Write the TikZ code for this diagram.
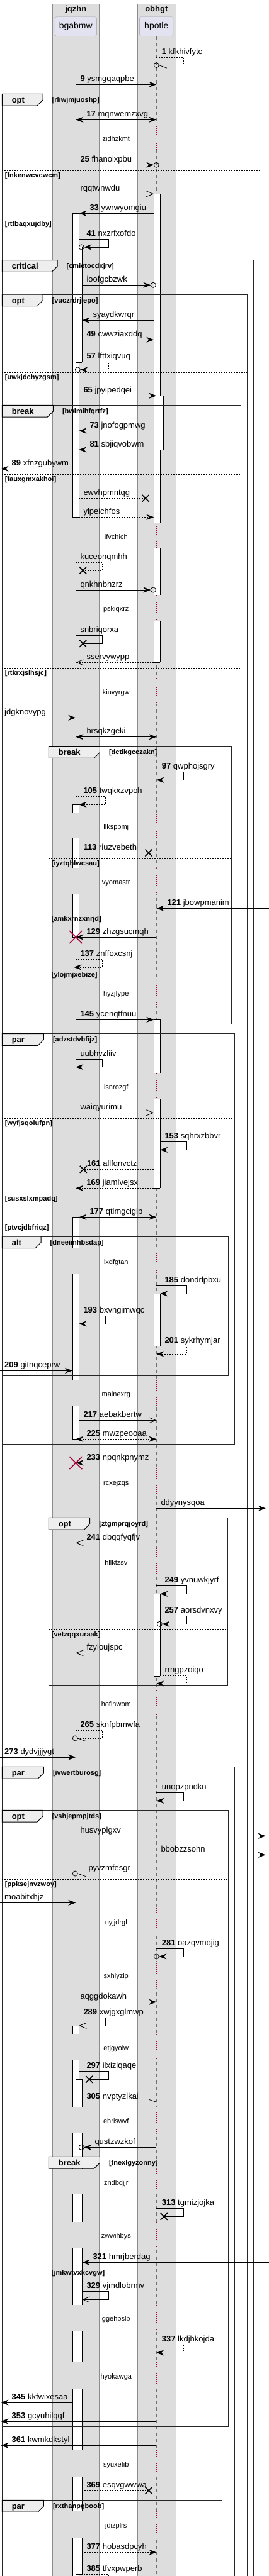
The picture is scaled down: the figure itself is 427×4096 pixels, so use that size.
\documentclass[tikz,border=0pt]{standalone}
\usepackage{fontspec}
\setmainfont{Liberation Sans}
\usetikzlibrary{arrows.meta}
\definecolor{boxbg}{HTML}{DDDDDD}
\definecolor{boxrule}{HTML}{8C8C8C}
\definecolor{partbg}{HTML}{E2E2F0}
\definecolor{partrule}{HTML}{A0A0A0}
\definecolor{lifegray}{HTML}{707070}
\definecolor{delayred}{HTML}{A80036}
\definecolor{tabbg}{HTML}{EEEEEE}
\tikzset{
  msgline/.style={line width=0.8pt},
  dashmsg/.style={dash pattern=on 2pt off 2pt},
  headfill/.style={-{Stealth[length=12pt,width=9pt,inset=4pt]}},
  headopen/.style={-{Straight Barb[length=11pt,width=9pt]}},
  bothfill/.style={{Stealth[length=12pt,width=9pt,inset=4pt]}-{Stealth[length=12pt,width=9pt,inset=4pt]}},
  msgtext/.style={anchor=base west,inner sep=0pt,font=\fontsize{13}{15}\selectfont},
  delaytext/.style={anchor=base,inner sep=0pt,font=\fontsize{11}{13}\selectfont},
  kwtext/.style={anchor=base west,inner sep=0pt,font=\bfseries\fontsize{13}{15}\selectfont},
  guardtext/.style={anchor=base west,inner sep=0pt,font=\bfseries\fontsize{11}{13}\selectfont},
  boxtitle/.style={anchor=base,inner sep=0pt,font=\bfseries\fontsize{13}{15}\selectfont},
  part/.style={draw=partrule,fill=partbg,rounded corners=2.5pt,minimum height=30.6pt,inner sep=0pt,font=\fontsize{14}{16}\selectfont},
  lifeline/.style={lifegray,line width=0.8pt,dash pattern=on 5pt off 5pt},
  delayline/.style={delayred,line width=0.8pt,dash pattern=on 1pt off 2pt},
  frameline/.style={line width=1.5pt,draw=black!85},
  sepline/.style={line width=0.7pt,dash pattern=on 2pt off 2pt},
  actline/.style={line width=0.8pt},
  lostx/.style={line width=1.5pt},
}
% lifelines and activation edges
\newcommand{\Xj}{120.3}
\newcommand{\Xo}{248.3}
\newcommand{\Xja}{125.3}
\newcommand{\Xjl}{115}
\newcommand{\Xjn}{130.3}
\newcommand{\Xoa}{244.3}
\newcommand{\Xor}{254.3}
\newcommand{\Xon}{249.3}
\newcommand{\Xl}{1.5}
\newcommand{\Xr}{421.7}
% messages
\newcommand{\msg}[5][]{%
  \draw[msgline,#1] (#3,#2) -- (#4,#2);
  \pgfmathsetmacro{\labx}{(#4<#3) ? #4+17 : #3+7}%
  \node[msgtext] at (\labx,#2-5) {#5};}
\newcommand{\selfmsg}[6][]{%
  \draw[msgline,#1] (#2,#3) -- (#4,#3) -- (#4,#3+12.6) -- (#5,#3+12.6);
  \node[msgtext] at (#4-35,#3-5) {#6};}
\newcommand{\lostmark}[2]{\draw[lostx] (#1-5.5,#2-5.5) -- (#1+5.5,#2+5.5) (#1-5.5,#2+5.5) -- (#1+5.5,#2-5.5);}
\newcommand{\lost}[5][]{%
  \draw[msgline,#1] (#3,#2) -- (#4,#2);
  \lostmark{#4}{#2}
  \pgfmathsetmacro{\labx}{(#4<#3) ? #4+5.5 : #3+7}%
  \node[msgtext] at (\labx,#2-5) {#5};}
\newcommand{\tipring}[2]{\draw[msgline] (#1,#2) circle (4pt);}
\newcommand{\ringbarb}[2]{\draw[msgline] (#1,#2) circle (4pt) (#1+4,#2) -- ++(12.5,4.5);}
\newcommand{\destroymark}[2]{\draw[delayred,line width=1.5pt] (#1-10,#2-10) -- (#1+10,#2+10) (#1-10,#2+10) -- (#1+10,#2-10);}
% activations and groups
\newcommand{\actbar}[5]{%
  \fill[white] (#1,#2) rectangle (#1+10,#3);
  \draw[actline] (#1,#2) -- (#1,#3) (#1+10,#2) -- (#1+10,#3);
  \ifnum#4=1 \draw[actline] (#1,#2) -- (#1+10,#2);\fi
  \ifnum#5=1 \draw[actline] (#1,#3) -- (#1+10,#3);\fi}
\newcommand{\groupframe}[7]{%
  \draw[frameline] (#1,#3) rectangle (#2,#4);
  \draw[line width=1pt,fill=tabbg] (#1,#3) -- (#5,#3) -- (#5,#3+9.7) -- (#5-9,#3+18.7) -- (#1,#3+18.7) -- cycle;
  \node[kwtext] at (#1+15.3,#3+14) {#6};
  \node[guardtext] at (#5+14.5,#3+13) {[#7]};}
\newcommand{\groupsep}[4]{%
  \draw[sepline] (#1,#3) -- (#2,#3);
  \node[guardtext] at (#1+4.4,#3+11) {[#4]};}

\begin{document}
\begin{tikzpicture}[x=1pt,y=-1pt]
\useasboundingbox (0,0) rectangle (427,4096);
\clip (0,0) rectangle (427,4096);
% boxes :
\draw[boxrule,fill=boxbg] (83.3,6) rectangle (157.3,4110);
\draw[boxrule,fill=boxbg] (218.3,6) rectangle (279.3,4110);
\node[boxtitle] (jqzhn) at (\Xj,18) {jqzhn};
\node[boxtitle] (obhgt) at (\Xo,18) {obhgt};
% participants and lifelines :
\node[part,minimum width=66pt] (bgabmw) at (\Xj,42) {bgabmw};
\node[part,minimum width=53.4pt] (hpotle) at (\Xo,42) {hpotle};
\draw[lifeline] (bgabmw.south) -- (\Xj,4110);
\draw[lifeline] (hpotle.south) -- (\Xo,4110);
% delays :
\foreach \ya/\yb/\txt in {198/239/zidhzkmt, 830.7/872.3/ifvchich, 946/986.7/pskiqxrz,
  1078/1120/kiuvyrgw, 1292.3/1333.3/llkspbmj, 1380/1421/vyomastr, 1557.5/1599/hyzjfype,
  1705.7/1747.3/lsnrozgf, 1984/2026/lxdfgtan, 2194.7/2236/malnexrg, 2335/2376.5/rcxejzqs,
  2462/2504/hllktzsv, 2687/2729/hoflnwom, 3034/3076/nyjjdrgl, 3119/3161/sxhiyzip,
  3234.3/3276/etjgyolw, 3350/3391.7/ehriswvf, 3449/3489.3/zndbdjjr, 3532.7/3574/zwwihbys,
  3664.7/3706/ggehpslb, 3756/3798.3/hyokawga, 3896/3938.3/syuxefib, 3993.3/4035/jdizplrs}{
  \draw[boxbg,line width=2pt] (\Xj,\ya) -- (\Xj,\yb) (\Xo,\ya) -- (\Xo,\yb);
  \draw[delayline] (\Xj,\ya) -- (\Xj,\yb) (\Xo,\ya) -- (\Xo,\yb);
  \node[delaytext] at (184.3,{(\ya+\yb)/2+5.5}) {\txt};
}
% activations :
\foreach \xa/\ya/\yb/\ta/\tb in {115/339.3/822.3/1/1, 115/1279/1292.3/1/0, 115/1333.3/1380/0/0,
  115/1421/1490/0/1, 115/1935.3/1984/1/0, 115/2026/2194.7/0/0, 115/2236/2288.3/0/1,
  115/3221.3/3234.3/1/0, 115/3276/3350/0/0, 115/3391.7/3449/0/0, 115/3489.3/3532.7/0/0,
  115/3574/3664.7/0/0, 115/3706/3756/0/0, 115/3798.3/3896/0/0, 115/3938.3/3993.3/0/0,
  115/4035/4110/0/0,
  120.3/392.3/576/1/1, 120.3/3306.3/3350/1/0, 120.3/3391.7/3449/0/0, 120.3/3489.3/3532.7/0/0,
  120.3/3574/3664.7/0/0, 120.3/3706/3756/0/0, 120.3/3798.3/3896/0/0, 120.3/3938.3/3993.3/0/0,
  120.3/4035/4093.3/0/1,
  244.3/308.3/830.7/1/0, 244.3/872.3/946/0/0, 244.3/986.7/1053.3/0/1, 244.3/1621.3/1705.7/1/0,
  244.3/1747.3/1889.3/0/1, 244.3/2057.3/2140.3/1/1, 244.3/2534.3/2665/1/1,
  249.3/629.3/715/1/1}{
  \actbar{\xa}{\ya}{\yb}{\ta}{\tb}
}
% groups :
\groupframe{3.3}{412.3}{149.3}{4110}{68}{opt}{rliwjmjuoshp}
\groupsep{3.3}{412.3}{271}{fnkenwcvcwcm}
\groupsep{3.3}{412.3}{348.3}{rttbaqxujdby}
\groupframe{3.3}{402.3}{413.7}{4110}{91}{critical}{cmietocdxjrv}
\groupframe{3.3}{392.3}{468}{4110}{68}{opt}{vuczrdrjlepo}
\groupsep{3.3}{392.3}{592.3}{uwkjdchyzgsm}
\groupframe{3.3}{382.3}{644.3}{4110}{84.3}{break}{bwlmihfqrtfz}
\groupsep{3.3}{382.3}{754}{fauxgmxakhoi}
\groupsep{3.3}{382.3}{1062.3}{rtkrxjslhsjc}
\groupframe{77.3}{367.7}{1186.7}{1628.7}{158.3}{break}{dctikgcczakn}
\groupsep{77.3}{367.7}{1365}{iyztqhlwcsau}
\groupsep{77.3}{367.7}{1453.3}{amkxrnzxnrjd}
\groupsep{77.3}{367.7}{1542.3}{ylojmjxebize}
\groupframe{3.3}{372.3}{1643.7}{2296.3}{69.3}{par}{adzstdvbfijz}
\groupsep{3.3}{372.3}{1778.3}{wyfjsqolufpn}
\groupsep{3.3}{372.3}{1898.3}{susxslxmpadq}
\groupsep{3.3}{372.3}{1944.3}{ptvcjdbfriqz}
\groupframe{3.3}{362.7}{1966}{2187}{65}{alt}{dneeimhbsdap}
\groupframe{77.3}{361.7}{2413.3}{2680}{142.7}{opt}{ztgmprqjoyrd}
\groupsep{77.3}{361.7}{2591}{vetzqqxuraak}
\groupframe{3.3}{372.7}{2809.3}{4110}{69.3}{par}{ivwertburosg}
\groupframe{3.3}{362.7}{2878.3}{3857.7}{68}{opt}{vshjepmpjtds}
\groupsep{3.3}{362.7}{2988}{ppksejnvzwoy}
\groupframe{77.3}{352.7}{3429.3}{3749.3}{158.3}{break}{tnexlgyzonny}
\groupsep{77.3}{352.7}{3606.3}{jmkwtvxkcvgw}
\groupframe{3.3}{352.7}{3975.3}{4110}{69.3}{par}{rxthanpgboob}
% messages :
\selfmsg[dashmsg]{\Xo}{91}{291.7}{\Xo+4}{\textbf{1} kfkhivfytc}\ringbarb{\Xo}{103.6}
\msg[headfill]{134.3}{\Xj}{\Xo}{\textbf{9} ysmgqaqpbe}
\msg[bothfill]{190.3}{\Xo}{\Xj}{\textbf{17} mqnwemzxvg}
\msg[headfill]{262.3}{\Xj}{\Xo-4}{\textbf{25} fhanoixpbu}\tipring{\Xo}{262.3}
\msg[headopen]{308.3}{\Xj}{\Xoa}{rqqtwnwdu}
\msg[headfill]{339.3}{\Xoa}{\Xja}{\textbf{33} ywrwyomgiu}
\selfmsg[headfill]{\Xja}{380.3}{172.3}{\Xjn+3}{\textbf{41} nxzrfxofdo}\tipring{\Xjn-1}{392.9}
\msg[headfill]{453.3}{\Xjn}{\Xoa-5}{ioofgcbzwk}\tipring{\Xoa-1}{453.3}
\msg[headfill]{509.3}{\Xoa}{\Xjn}{syaydkwrqr}
\msg[headfill]{540.3}{\Xjn}{\Xoa}{\textbf{49} cwwziaxddq}
\selfmsg[dashmsg,headfill]{\Xjn}{575.3}{172.3}{\Xja+2}{\textbf{57} lfttxiqvuq}\tipring{\Xja-2}{587.9}
\msg[headfill]{629.3}{\Xja}{\Xo}{\textbf{65} jpyipedqei}
\msg[dashmsg,headfill]{685}{\Xon}{\Xja}{\textbf{73} jnofogpmwg}
\msg[dashmsg,headfill]{715}{\Xon}{\Xja}{\textbf{81} sbjiqvobwm}
\msg[headfill]{745.3}{\Xoa}{\Xl}{\textbf{89} xfnzgubywm}
\lost[dashmsg]{792.3}{\Xja}{231}{ewvhpmntqg}
\msg[dashmsg,headfill]{822.3}{\Xja}{\Xoa}{ylpeichfos}
\selfmsg[dashmsg]{\Xj}{894.3}{162.3}{131.7}{kuceonqmhh}\lostmark{131.7}{906.9}
\msg[headfill]{938}{\Xj}{\Xoa-5}{qnkhnbhzrz}\tipring{\Xoa-1}{938}
\selfmsg{\Xj}{1010.7}{162.3}{131.7}{snbriqorxa}\lostmark{131.7}{1023.3}
\msg[dashmsg,headopen]{1053.3}{\Xoa}{\Xj}{sservywypp}
\msg[headfill]{1141.3}{0}{\Xj}{jdgknovypg}
\msg[bothfill]{1171.7}{\Xo}{\Xj}{hrsqkzgeki}
\selfmsg[headfill]{\Xo}{1227.7}{291.7}{\Xo}{\textbf{97} qwphojsgry}
\selfmsg[dashmsg,headfill]{\Xj}{1266.7}{167.3}{\Xja}{\textbf{105} twqkxzvpoh}
\lost{1356}{\Xja}{236}{\textbf{113} riuzvebeth}
\msg[headfill]{1444.3}{427}{\Xo}{\textbf{121} jbowpmanim}
\msg[headfill]{1490}{\Xo}{\Xj}{\textbf{129} zhzgsucmqh}\destroymark{\Xj}{1490}
\selfmsg[dashmsg,headfill]{\Xj}{1525.3}{162.3}{\Xj-3}{\textbf{137} znffoxcsnj}
\msg[headfill]{1621.3}{\Xj}{\Xoa}{\textbf{145} ycenqtfnuu}
\selfmsg[headfill]{\Xj}{1684}{162.3}{\Xj}{uubhvzliiv}
\msg[headopen]{1769.3}{\Xj}{\Xoa}{waiqyurimu}
\selfmsg[headfill]{\Xor}{1815.7}{296.3}{\Xor}{\textbf{153} sqhrxzbbvr}
\lost[dashmsg]{1859.3}{\Xoa}{132.3}{\textbf{161} allfqnvctz}
\msg[dashmsg,headfill]{1889.3}{\Xoa}{\Xj}{\textbf{169} jiamlvejsx}
\msg[bothfill]{1935.3}{\Xo}{\Xja}{\textbf{177} qtlmgcigip}
\selfmsg[headfill]{\Xo}{2044.3}{296.3}{\Xor}{\textbf{185} dondrlpbxu}
\selfmsg[headfill]{\Xja}{2092.3}{167.3}{\Xja}{\textbf{193} bxvngimwqc}
\selfmsg[dashmsg,headfill]{\Xor}{2140.3}{296.3}{\Xo}{\textbf{201} sykrhymjar}
\msg[headfill]{2179.3}{0}{\Xjl}{\textbf{209} gitnqceprw}
\msg[headopen]{2258.3}{\Xja}{\Xo}{\textbf{217} aebakbertw}
\msg[dashmsg,bothfill]{2288.3}{\Xo}{\Xj}{\textbf{225} mwzpeooaa}
\msg[headfill]{2326}{\Xo}{\Xj}{\textbf{233} npqnkpnymz}\destroymark{\Xj}{2326}
\msg[headfill]{2398.3}{\Xo}{\Xr}{ddyynysqoa}
\msg[headopen]{2453.3}{\Xo}{\Xj}{\textbf{241} dbqqfyqfjv}
\selfmsg[headfill]{\Xo}{2521.7}{296.3}{\Xor}{\textbf{249} yvnuwkjyrf}
\selfmsg[headfill]{\Xor}{2569.7}{296.3}{\Xor+3}{\textbf{257} aorsdvnxvy}\tipring{\Xor-1}{2582.3}
\msg[headopen]{2628.3}{\Xoa}{\Xj}{fzyloujspc}
\selfmsg[dashmsg,headfill]{\Xor}{2664.3}{296.3}{\Xo}{rrngpzoiqo}
\selfmsg[dashmsg]{\Xj}{2751.3}{162.3}{\Xj+3}{\textbf{265} sknfpbmwfa}\ringbarb{\Xj-1}{2763.9}
\msg[headfill]{2794}{0}{\Xj}{\textbf{273} dydvjjjygt}
\selfmsg[headfill]{\Xo}{2850.7}{291.7}{\Xo}{unopzpndkn}
\msg[headfill]{2919.3}{\Xj}{\Xr}{husvyplgxv}
\msg[headfill]{2949.3}{\Xo}{\Xr}{bbobzzsohn}
\msg[dashmsg]{2979}{\Xo}{\Xj+3}{pyvzmfesgr}\ringbarb{\Xj-1}{2979}
\msg[headfill]{3025.3}{0}{\Xj}{moabitxhjz}
\selfmsg[headfill]{\Xo}{3098.3}{291.7}{\Xo+4}{\textbf{281} oazqvmojig}\tipring{\Xo}{3110.9}
\msg[headfill]{3183.3}{\Xj}{\Xo}{aqggdokawh}
\selfmsg[headopen]{\Xj}{3208.3}{167.3}{\Xja}{\textbf{289} xwjgxglmwp}
\selfmsg{\Xja}{3293.7}{172.3}{141.7}{\textbf{297} ilxiziqaqe}\lostmark{141.7}{3306.3}
\msg{3342.3}{\Xjn}{\Xo}{\textbf{305} nvptyzlkai}\draw[msgline] (\Xo,3342.3) -- ++(-12,-4);
\msg[headfill]{3414.3}{\Xo}{\Xjn+3}{qustzwzkof}\tipring{\Xjn-1}{3414.3}
\selfmsg{\Xo}{3511.7}{291.7}{260.3}{\textbf{313} tgmizjojka}\lostmark{260.3}{3524.3}
\msg[headfill]{3597.3}{427}{\Xjn}{\textbf{321} hmrjberdag}
\selfmsg[headopen]{\Xjn}{3643.7}{172.3}{\Xjn}{\textbf{329} vjmdlobrmv}
\selfmsg[dashmsg,headfill]{\Xo}{3728.3}{291.7}{\Xo}{\textbf{337} lkdjhkojda}
\msg[headfill]{3820}{\Xjl}{\Xl}{\textbf{345} kkfwixesaa}
\msg[headfill]{3850}{\Xo}{\Xl}{\textbf{353} gcyuhilqqf}
\msg[headfill]{3888.3}{\Xo}{\Xl}{\textbf{361} kwmkdkstyl}
\lost[dashmsg]{3960}{\Xjn}{236}{\textbf{369} esqvgwwwa}
\msg[dashmsg,headfill]{4058.3}{\Xjn}{\Xo}{\textbf{377} hobasdpcyh}
\selfmsg[dashmsg,headfill]{\Xja}{4093.3}{172.3}{\Xjn}{\textbf{385} tfvxpwperb}
\end{tikzpicture}
\end{document}
